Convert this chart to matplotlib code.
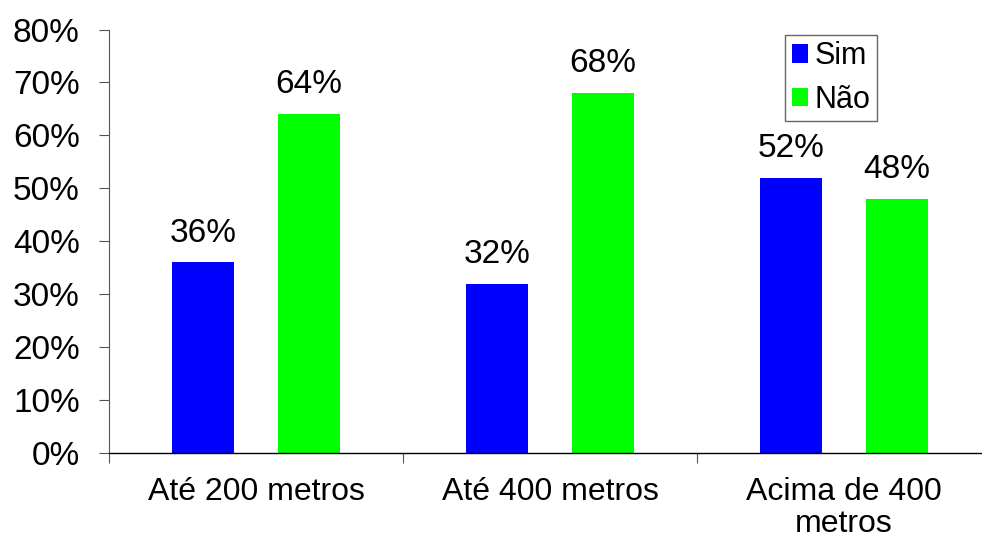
import numpy as np
import matplotlib
matplotlib.use("Agg")
import matplotlib.pyplot as plt

plt.rcParams['font.family'] = ['Liberation Sans', 'DejaVu Sans']

categorias = ['Até 200 metros', 'Até 400 metros', 'Acima de 400\nmetros']
sim = [36, 32, 52]
nao = [64, 68, 48]
yticks = [0, 10, 20, 30, 40, 50, 60, 70, 80]

fig = plt.figure(figsize=(9.82, 5.40), dpi=100)
ax = fig.add_axes([109 / 982, 87 / 540, 882 / 982, 423.5 / 540])

x = np.arange(len(categorias))
larg = 0.213
desl = 0.18
b1 = ax.bar(x - desl, sim, width=larg, color='#0000ff', label='Sim')
b2 = ax.bar(x + desl, nao, width=larg, color='#00ff00', label='Não')

for barras in (b1, b2):
    for b in barras:
        h = b.get_height()
        ax.annotate('%d%%' % h, (b.get_x() + b.get_width() / 2, h),
                    xytext=(0, 15), textcoords='offset points',
                    ha='center', va='baseline', fontsize=24)

ax.set_xlim(-0.5, len(categorias) - 0.5)
ax.set_ylim(0, 80)
ax.set_yticks(yticks)
ax.set_yticklabels(['%d%%' % v for v in yticks])

# divisórias entre categorias nos ticks maiores, rótulos nos menores
ax.set_xticks(np.arange(len(categorias) + 1) - 0.5)
ax.set_xticklabels([])
ax.set_xticks(x, minor=True)
ax.set_xticklabels(categorias, minor=True, fontsize=23, linespacing=1.12)
ax.tick_params(axis='x', which='major', direction='out', length=7, width=0.8, color='#555555')
ax.tick_params(axis='x', which='minor', length=0, pad=17)
ax.tick_params(axis='y', direction='out', length=7, width=0.8, color='#555555',
               labelsize=24, pad=14)

for s in ('top', 'right'):
    ax.spines[s].set_visible(False)
ax.spines['left'].set_color('#555555')
ax.spines['left'].set_linewidth(0.8)
ax.spines['bottom'].set_color('black')
ax.spines['bottom'].set_linewidth(1.0)

leg = ax.legend(loc='upper left', bbox_to_anchor=(0.767, 0.987), fontsize=22,
                frameon=True, fancybox=False, borderaxespad=0,
                handlelength=0.55, handleheight=0.55, handletextpad=0.2,
                borderpad=0.2, labelspacing=0.45)
leg.get_frame().set_edgecolor('#404040')
leg.get_frame().set_linewidth(1.0)

fig.savefig('out.png', dpi=100)
